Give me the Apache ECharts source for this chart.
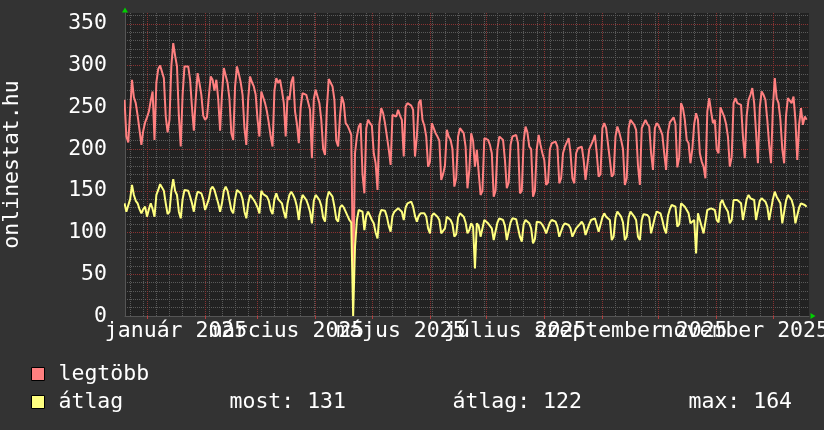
<!DOCTYPE html>
<html>
<head>
<meta charset="utf-8">
<script src="https://cdn.jsdelivr.net/npm/echarts@6/dist/echarts.min.js"></script>
<style>
html,body{margin:0;padding:0;background:#333333;}
#c{width:824px;height:430px;}
</style>
</head>
<body>
<div id="c"></div>
<script>
// ---- data (one value per day, first day 2024-12-20) ----
const firstDay = [2024, 11, 20];
const seriesNames = ['legtöbb', 'átlag'];
const legtobb = [
259,215,208,
245,283,262,255,240,223,205,
222,232,238,245,258,269,211,
280,296,300,299,285,239,220,
235,300,327,312,299,240,203,
265,299,298,299,283,250,222,
260,291,279,265,240,235,238,
263,287,283,270,283,260,222,
265,297,295,279,260,219,211,
275,299,290,280,265,225,205,
260,287,280,275,265,235,215,
269,262,255,245,231,215,203,
270,285,279,283,270,255,215,
263,259,280,287,245,230,207,
250,267,266,265,263,247,189,
260,271,269,255,235,200,193,
250,284,283,275,259,210,203,
240,263,255,231,228,223,217,
39,195,215,227,231,170,147,
225,235,231,228,195,183,151,
230,249,243,231,231,200,181,
241,241,239,247,240,235,191,
251,255,257,252,247,191,215,
255,259,235,228,215,179,185,
231,225,219,215,210,163,170,
180,223,215,211,200,155,165,
215,225,222,219,203,153,175,
219,210,179,199,199,145,150,
213,212,211,205,195,143,150,
200,215,217,211,187,153,160,
205,215,217,217,207,147,150,
210,227,220,203,200,143,150,
200,217,205,195,187,157,160,
200,207,208,209,203,159,165,
195,203,208,213,195,165,159,
195,201,200,203,187,163,165,
200,205,210,217,195,167,170,
225,231,225,223,187,167,170,
215,227,220,211,200,157,165,
225,235,232,229,223,180,157,
225,230,235,230,227,195,175,
225,231,228,223,217,195,175,
220,232,235,238,230,178,190,
255,249,235,211,207,183,200,
230,243,235,195,185,179,165,
245,261,245,231,235,200,195,
250,250,239,230,215,179,190,
255,261,255,255,253,215,189,
240,259,265,273,255,220,183,
250,269,265,259,235,205,183,
250,285,261,255,235,200,183,
240,261,258,255,263,235,187,
230,249,229,239,235
];
const atlag = [
135,125,123,
140,157,145,138,135,128,123,
128,131,119,128,135,128,119,
145,151,158,159,150,135,122,
125,150,164,150,145,125,117,
140,151,151,150,143,135,125,
140,149,148,147,140,127,125,
140,152,155,151,150,135,125,
135,150,155,150,149,127,123,
140,151,150,147,140,125,117,
135,145,143,139,135,130,123,
150,146,145,143,138,127,122,
140,147,140,138,135,125,117,
135,145,149,145,140,131,115,
135,145,142,139,133,125,111,
138,145,142,139,132,118,113,
140,149,146,143,131,116,113,
130,133,130,125,120,115,112,
0,83,115,127,128,125,103,
120,125,124,115,111,100,93,
120,127,129,126,119,108,101,
120,125,127,129,127,125,115,
130,135,137,137,131,120,113,
120,123,124,123,119,105,99,
120,123,121,119,115,99,100,
105,119,118,115,110,95,98,
118,123,121,119,112,99,103,
111,107,57,111,108,95,97,
115,117,111,110,105,91,93,
112,117,117,115,108,91,93,
112,117,117,116,115,95,89,
110,115,113,111,105,87,92,
113,115,112,109,105,99,100,
112,115,114,113,107,95,97,
108,111,110,109,105,95,97,
105,107,110,113,109,97,99,
110,115,116,117,109,101,103,
118,123,119,117,115,91,95,
118,125,122,119,112,91,95,
118,125,122,119,115,95,91,
115,122,123,121,118,99,100,
118,125,124,123,115,105,99,
120,128,133,135,131,107,110,
135,133,131,127,123,111,110,
115,75,123,115,107,99,100,
127,129,129,128,127,115,112,
135,139,133,131,125,111,115,
139,139,139,137,135,115,117,
140,145,141,140,139,115,117,
138,141,139,137,131,115,117,
140,149,143,139,135,111,113,
138,145,142,139,131,111,113,
130,135,134,133,131
];
const yTickValues = [0, 50, 100, 150, 200, 250, 300, 350];
const monthLabels = ['január 2025', 'március 2025', 'május 2025', 'július 2025', 'szeptember 2025', 'november 2025'];
const labelMonths = [0, 2, 4, 6, 8, 10];
const statsLabels = ['most: 131', 'átlag: 122', 'max: 164'];

// ---- helpers ----
const DAY = 86400000;
const ORIGIN = Date.UTC(2025, 0, 1);
function dayOf(y, m, d) { return (Date.UTC(y, m, d) - ORIGIN) / DAY; }
const xMin = dayOf(2024, 11, 20) + 0.26;
const xMax = xMin + 365;
const yMax = 363;

const redData = legtobb.map((v, i) => [dayOf(firstDay[0], firstDay[1], firstDay[2] + i), v]);
const yelData = atlag.map((v, i) => [dayOf(firstDay[0], firstDay[1], firstDay[2] + i), v]);

const monthStarts = [];
for (let m = 0; m < 12; m++) monthStarts.push(dayOf(2025, m, 1));
const labelDays = labelMonths.map(m => (dayOf(2025, m, 1) + dayOf(2025, m + 1, 1)) / 2);
const labelDaysA = labelDays.filter((d, i) => i % 2 === 0);
const labelDaysB = labelDays.filter((d, i) => i % 2 === 1);
const mondays = [];
for (let d = dayOf(2024, 11, 23); d <= xMax; d += 7) mondays.push(d);
const yMinor = [];
for (let v = 0; v <= yMax; v += 10) yMinor.push(v);

const FONT = 'DejaVu Sans Mono';
const FS = 21.5;
const minorLine = { color: '#5a5a5a', type: [1, 1], width: 1 };
const majorLine = { color: '#8a3232', type: [1, 1], width: 1 };

function nearestLabel(v) {
  let best = 0, bd = Infinity;
  labelDays.forEach((d, i) => { const e = Math.abs(d - v); if (e < bd) { bd = e; best = i; } });
  return bd < 1 ? monthLabels[best] : '';
}
const labelStyle = { formatter: nearestLabel, color: '#ffffff', fontFamily: FONT, fontSize: FS, margin: 4, showMinLabel: true, showMaxLabel: true, hideOverlap: false };

const chart = echarts.init(document.getElementById('c'), null, { renderer: 'canvas', width: 824, height: 430 });
const option = {
  animation: false,
  backgroundColor: '#333333',
  grid: { left: 125, right: 15, top: 13, bottom: 114, show: true, backgroundColor: '#222222', borderWidth: 0, containLabel: false, outerBoundsMode: 'none' },
  xAxis: [
    {
      type: 'value', min: xMin, max: xMax, position: 'bottom',
      axisLine: { show: false }, axisLabel: { show: false },
      axisTick: { show: false, customValues: mondays },
      splitLine: { show: true, lineStyle: minorLine }
    },
    {
      type: 'value', min: xMin, max: xMax, position: 'bottom',
      axisLine: { show: true, onZero: false, lineStyle: { color: '#555555', width: 1 } },
      axisTick: { show: true, customValues: monthStarts, length: 3, lineStyle: { color: '#b04040' } },
      axisLabel: Object.assign({ customValues: labelDaysA }, labelStyle),
      splitLine: { show: true, lineStyle: majorLine }
    },
    {
      type: 'value', min: xMin, max: xMax, position: 'bottom',
      axisLine: { show: false }, axisTick: { show: false },
      axisLabel: Object.assign({ customValues: labelDaysB }, labelStyle),
      splitLine: { show: false }
    },
    {
      type: 'value', min: xMin, max: xMax, position: 'bottom',
      axisLine: { show: true, onZero: false, lineStyle: { color: '#00d000', width: 0 }, symbol: ['none', 'triangle'], symbolSize: [6, 5], symbolOffset: [0, 4] },
      axisTick: { show: false }, axisLabel: { show: false }, splitLine: { show: false }
    }
  ],
  yAxis: [
    {
      type: 'value', min: 0, max: yMax, position: 'left',
      axisLine: { show: false }, axisLabel: { show: false },
      axisTick: { show: false, customValues: yMinor },
      splitLine: { show: true, lineStyle: minorLine }
    },
    {
      type: 'value', min: 0, max: yMax, position: 'left',
      name: 'onlinestat.hu', nameLocation: 'middle', nameRotate: 90, nameGap: 102,
      nameTextStyle: { color: '#ffffff', fontFamily: FONT, fontSize: FS },
      axisLine: { show: true, onZero: false, lineStyle: { color: '#555555', width: 1 } },
      axisTick: { show: false, customValues: yTickValues },
      axisLabel: { customValues: yTickValues, color: '#ffffff', fontFamily: FONT, fontSize: FS, margin: 18, showMinLabel: true, showMaxLabel: true },
      splitLine: { show: true, lineStyle: majorLine }
    },
    {
      type: 'value', min: 0, max: yMax, position: 'left',
      axisLine: { show: true, onZero: false, lineStyle: { color: '#00d000', width: 0 }, symbol: ['none', 'triangle'], symbolSize: [6, 5], symbolOffset: [0, 3] },
      axisTick: { show: false }, axisLabel: { show: false }, splitLine: { show: false }
    }
  ],
  legend: {
    orient: 'vertical', left: 31, top: 363, padding: 0, itemWidth: 13, itemHeight: 13, itemGap: 6,
    icon: 'rect', selectedMode: false,
    itemStyle: { borderColor: '#000000', borderWidth: 1 },
    textStyle: {
      color: '#ffffff', fontFamily: FONT, fontSize: FS, lineHeight: 22,
      rich: {
        n: { color: '#ffffff', fontFamily: FONT, fontSize: FS, lineHeight: 22, width: 171, padding: [0, 0, 0, 9] },
        s1: { color: '#ffffff', fontFamily: FONT, fontSize: FS, lineHeight: 22, width: 223 },
        s2: { color: '#ffffff', fontFamily: FONT, fontSize: FS, lineHeight: 22, width: 236 },
        s3: { color: '#ffffff', fontFamily: FONT, fontSize: FS, lineHeight: 22 }
      }
    },
    formatter: function (name) {
      if (name === seriesNames[1]) {
        return '{n|' + name + '}{s1|' + statsLabels[0] + '}{s2|' + statsLabels[1] + '}{s3|' + statsLabels[2] + '}';
      }
      return '{n|' + name + '}';
    },
    data: seriesNames
  },
  series: [
    {
      name: seriesNames[0], type: 'line', xAxisIndex: 1, yAxisIndex: 1, data: redData,
      showSymbol: false, symbol: 'none', silent: true,
      lineStyle: { color: '#ff8080', width: 2 }, itemStyle: { color: '#ff8080' }
    },
    {
      name: seriesNames[1], type: 'line', xAxisIndex: 1, yAxisIndex: 1, data: yelData,
      showSymbol: false, symbol: 'none', silent: true,
      lineStyle: { color: '#ffff80', width: 2 }, itemStyle: { color: '#ffff80' }
    }
  ]
};
chart.setOption(option);
</script>
</body>
</html>
